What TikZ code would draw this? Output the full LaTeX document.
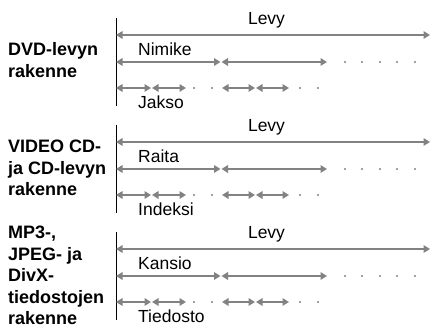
\documentclass[tikz,border=0pt]{standalone}
\usepackage{fontspec}
\setmainfont{Liberation Sans}
\usetikzlibrary{arrows.meta}
\definecolor{bargray}{HTML}{828282}

\begin{document}
\begin{tikzpicture}[x=1pt, y=-1pt,
    bar/.style={bargray, line width=2.5pt,
      {Triangle[length=6.5pt,width=7.5pt]}-{Triangle[length=6.5pt,width=7.5pt]}},
    spine/.style={black, line width=0.9pt},
    lbl/.style={inner sep=0pt, font=\fontsize{17.5}{21}\selectfont},
    ttl/.style={inner sep=0pt, anchor=base west, align=left,
      font=\bfseries\fontsize{18}{21.5}\selectfont}]
  \useasboundingbox (0,0) rectangle (431,328);
  % titles on the left (anchored at the last line)
  \node[ttl] (ttl1) at (8,77.5) {DVD-levyn\\rakenne};
  \node[ttl] (ttl2) at (8,196) {VIDEO CD-\\ja CD-levyn\\rakenne};
  \node[ttl] (ttl3) at (8,325) {MP3-,\\JPEG- ja\\DivX-\\tiedostojen\\rakenne};
  % one block per disc type
  \foreach \o/\sub/\leaf/\n in {0/Nimike/Jakso/1, 107/Raita/Indeksi/2, 214/Kansio/Tiedosto/3} {
    \draw[spine] (116,18+\o) -- (116,106+\o);
    % whole disc
    \draw[bar] (116,35+\o) -- (430,35+\o);
    \node[lbl, anchor=base] (levy\n) at (266.5,24.5+\o) {Levy};
    % second level
    \draw[bar] (116,62+\o) -- (220.5,62+\o);
    \draw[bar] (221.5,62+\o) -- (327,62+\o);
    \foreach \x in {345,362,380,397,415}
      \fill[bargray] (\x,62+\o) circle (1.1pt);
    \node[lbl, anchor=base west] (sub\n) at (138,56+\o) {\sub};
    % third level
    \foreach \a/\b in {116/151, 152/186, 222/255, 256/289}
      \draw[bar] (\a,88+\o) -- (\b,88+\o);
    \foreach \x in {194,212,300,318}
      \fill[bargray] (\x,88+\o) circle (1.1pt);
    \node[lbl, anchor=base west] (leaf\n) at (138,109+\o) {\leaf};
  }
\end{tikzpicture}
\end{document}
